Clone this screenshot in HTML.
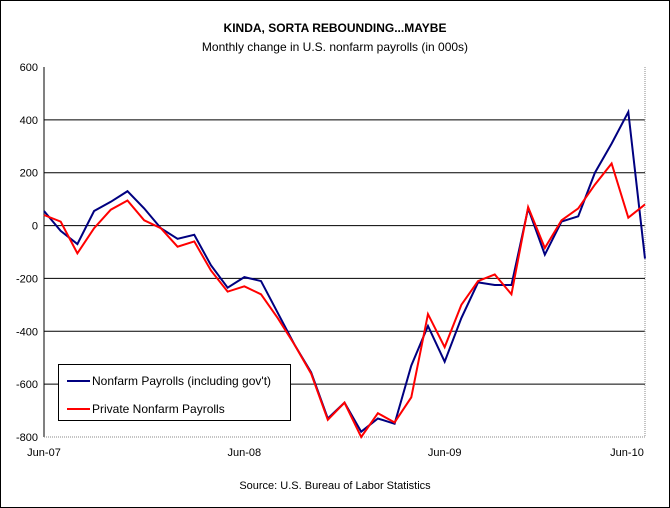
<!DOCTYPE html>
<html><head><meta charset="utf-8"><style>
body{margin:0;background:#fff}
svg{display:block;font-family:"Liberation Sans",Arial,sans-serif}
</style></head><body>
<svg width="670" height="508" viewBox="0 0 670 508">
<rect x="0.5" y="0.5" width="669" height="507" fill="#fff" stroke="#000"/>
<text x="335" y="32" text-anchor="middle" font-size="12" font-weight="bold">KINDA, SORTA REBOUNDING...MAYBE</text>
<text x="335" y="51" text-anchor="middle" font-size="12">Monthly change in U.S. nonfarm payrolls (in 000s)</text>
<text x="335" y="489" text-anchor="middle" font-size="11">Source:  U.S. Bureau of Labor Statistics</text>
<g id="grid"></g><g id="axes"></g><g id="series"></g>
<g>
<rect x="58.5" y="364.5" width="232" height="56" fill="#fff" stroke="#000"/>
<line x1="67" y1="381" x2="90" y2="381" stroke="#000080" stroke-width="2"/>
<text x="92" y="385" font-size="12">Nonfarm Payrolls (including gov't)</text>
<line x1="67" y1="409" x2="90" y2="409" stroke="#ff0000" stroke-width="2"/>
<text x="92" y="413" font-size="12">Private Nonfarm Payrolls</text>
</g>
</svg>
<script>
const yTicks=[600,400,200,0,-200,-400,-600,-800];
const xLabels=["Jun-07","Jun-08","Jun-09","Jun-10"];
const xLabelIdx=[0,12,24,36];
const nonfarm=[55,-20,-70,55,90,130,65,-10,-50,-35,-150,-235,-195,-210,-330,-450,-555,-730,-670,-780,-730,-750,-530,-380,-515,-350,-215,-225,-225,65,-110,15,35,200,310,430,-125];
const privateNF=[40,15,-105,-10,60,95,20,-10,-80,-60,-170,-250,-230,-260,-350,-450,-560,-735,-670,-800,-710,-745,-650,-335,-460,-300,-210,-185,-260,70,-85,20,65,155,235,30,80];
const NS="http://www.w3.org/2000/svg";
const X0=44,X1=645,Y0=67,Y1=437;
const x=i=>X0+(X1-X0)*i/(nonfarm.length-1);
const y=v=>Y0+(600-v)/1400*(Y1-Y0);
function mk(t,a,p){const e=document.createElementNS(NS,t);for(const k in a)e.setAttribute(k,a[k]);p.appendChild(e);return e;}
const grid=document.getElementById('grid'),axes=document.getElementById('axes'),ser=document.getElementById('series');
yTicks.forEach(v=>{
 if(v>-800&&v<600){const l=mk('line',{x1:X0,x2:X1,y1:y(v),y2:y(v),stroke:'#000','stroke-width':1},grid);
 
 }
 const t=mk('text',{x:38,y:y(v)+4,'text-anchor':'end','font-size':11},axes);t.textContent=v;
 
 
});
const ax=mk('line',{x1:X0,x2:X0,y1:Y0,y2:Y1,stroke:'#000'},axes);


const bx=mk('path',{d:`M${X0} ${Y1}H${X1}V${Y0}`,fill:'none',stroke:'#888','stroke-dasharray':'1,1'},axes);


xLabels.forEach((s,k)=>{
 let px=x(xLabelIdx[k]);
 if(k===0)px=Math.max(px,25);
 if(k===xLabels.length-1)px=Math.min(px,627);
 const t=mk('text',{x:px,y:y(-800)+19,'text-anchor':'middle','font-size':11},axes);t.textContent=s;
 
 
});
function line(arr,col,name){
 const p=mk('polyline',{points:arr.map((v,i)=>x(i)+','+y(v)).join(' '),fill:'none',stroke:col,'stroke-width':2,'stroke-linejoin':'miter'},ser);
 
 
}
line(nonfarm,'#000080','nonfarm-line');
line(privateNF,'#ff0000','private-line');
</script>
</body></html>
